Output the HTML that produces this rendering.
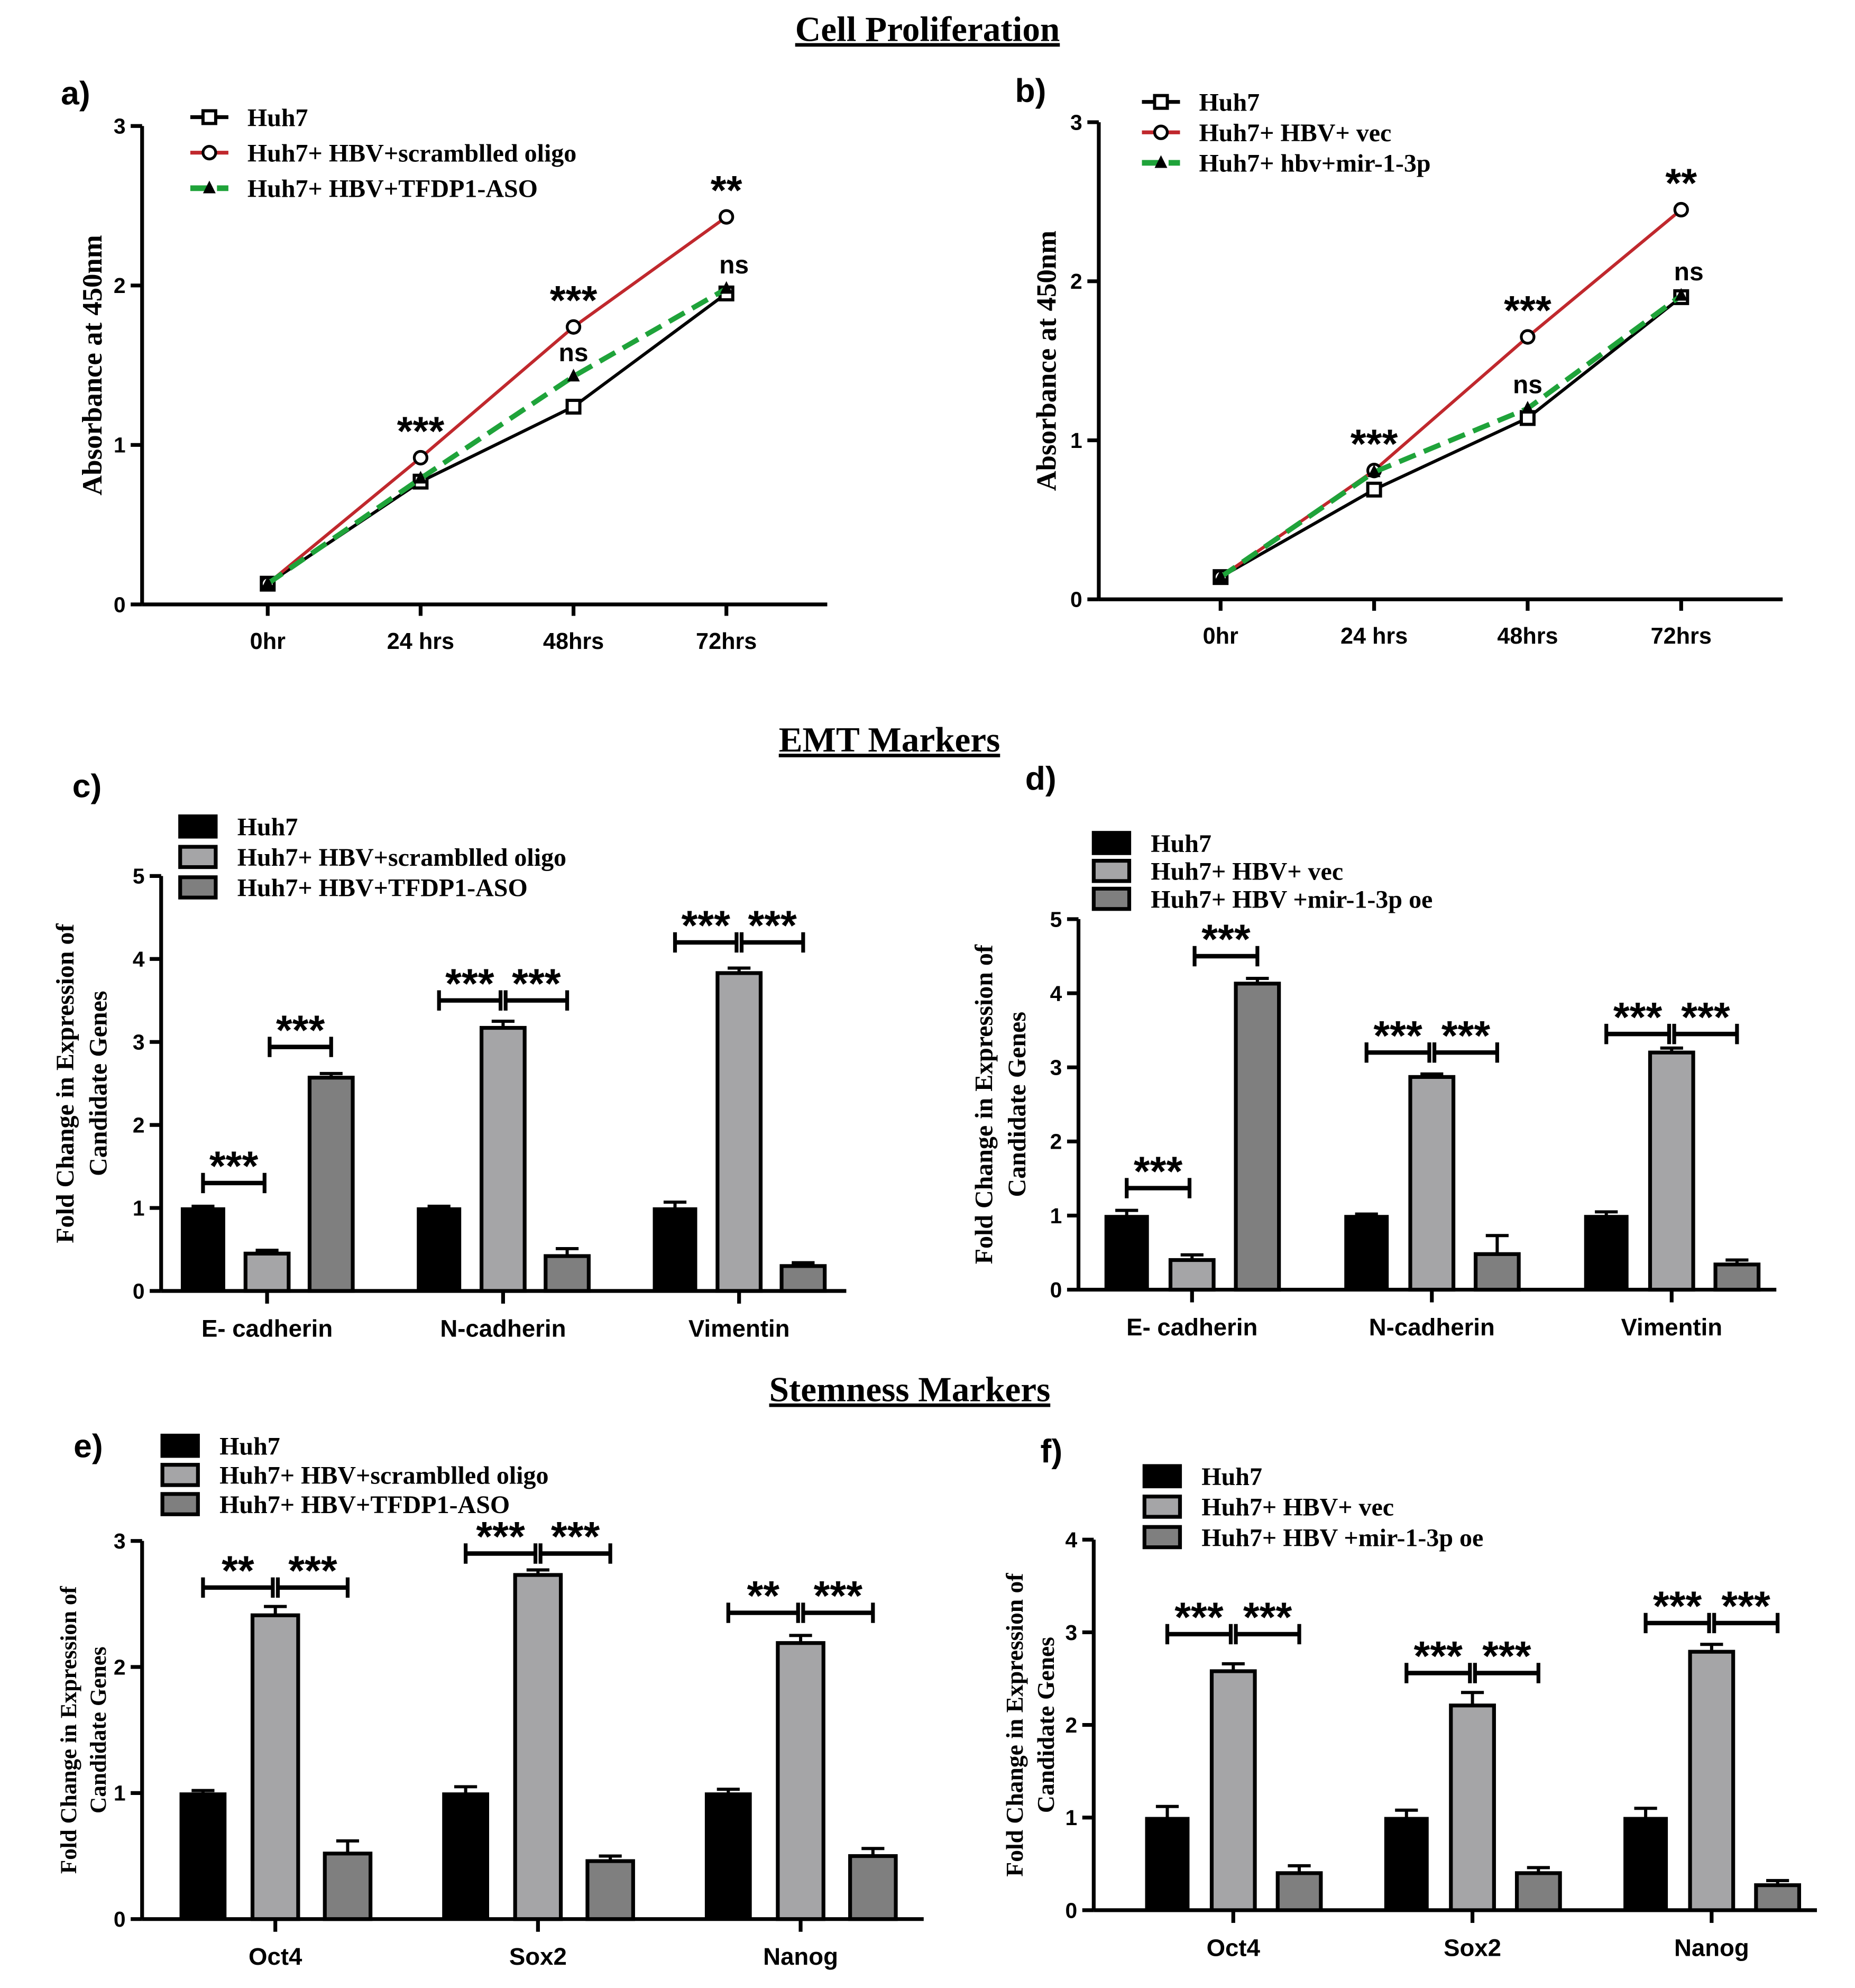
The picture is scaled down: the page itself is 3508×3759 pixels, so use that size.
<!DOCTYPE html>
<html><head><meta charset="utf-8"><style>
html,body{margin:0;padding:0;background:#fff}
svg{display:block}
.serif{font-family:"Liberation Serif",serif;font-weight:bold}
.sans{font-family:"Liberation Sans",sans-serif;font-weight:bold}
</style></head><body>
<svg id="fig" width="3508" height="3759" viewBox="0 0 1462 1566" xmlns="http://www.w3.org/2000/svg">
<g>
<text class="serif" x="731" y="32" font-size="28" text-anchor="middle" text-decoration="underline">Cell Proliferation</text>
<text class="serif" x="701" y="592" font-size="28" text-anchor="middle" text-decoration="underline">EMT Markers</text>
<text class="serif" x="717" y="1104" font-size="28" text-anchor="middle" text-decoration="underline">Stemness Markers</text>
</g>
</svg>
<script>
// ---------- DATA ----------
const timeCats = ["0hr","24 hrs","48hrs","72hrs"];
const lineTicks = [0,1,2,3];
const aHuh7 = [0.13,0.77,1.24,1.95];
const aScr = [0.13,0.92,1.74,2.43];
const aAso = [0.13,0.79,1.43,1.98];
const aSig = [null,"***","***","**"];
const aSig2 = [null,null,"ns","ns"];
const bHuh7 = [0.14,0.69,1.14,1.90];
const bVec = [0.14,0.81,1.65,2.45];
const bMir = [0.14,0.80,1.20,1.91];
const bSig = [null,"***","***","**"];
const bSig2 = [null,null,"ns","ns"];

const emtCats = ["E- cadherin","N-cadherin","Vimentin"];
const emtTicks = [0,1,2,3,4,5];
const cHuh7 = [1.0,1.0,1.0], cScr = [0.45,3.17,3.83], cAso = [2.57,0.42,0.30];
const cHuh7Err = [0.02,0.02,0.07], cScrErr = [0.04,0.08,0.06], cAsoErr = [0.05,0.09,0.04];
const dHuh7 = [1.0,1.0,1.0], dVec = [0.40,2.87,3.20], dMir = [4.13,0.48,0.34];
const dHuh7Err = [0.07,0.02,0.05], dVecErr = [0.07,0.04,0.06], dMirErr = [0.07,0.25,0.06];

const stemCats = ["Oct4","Sox2","Nanog"];
const eTicks = [0,1,2,3];
const eHuh7 = [1.0,1.0,1.0], eScr = [2.41,2.73,2.19], eAso = [0.52,0.46,0.50];
const eHuh7Err = [0.02,0.05,0.03], eScrErr = [0.07,0.04,0.06], eAsoErr = [0.10,0.04,0.06];
const fTicks = [0,1,2,3,4];
const fHuh7 = [1.0,1.0,1.0], fVec = [2.58,2.21,2.79], fMir = [0.40,0.40,0.27];
const fHuh7Err = [0.12,0.08,0.10], fVecErr = [0.08,0.14,0.08], fMirErr = [0.08,0.06,0.05];

const NS="http://www.w3.org/2000/svg";
const svg=document.getElementById('fig');
function mk(tag,attrs,parent,text){const e=document.createElementNS(NS,tag);for(const k in attrs)e.setAttribute(k,attrs[k]);if(text!==undefined)e.textContent=text;(parent||svg).appendChild(e);return e;}

function yAxis(g,x0,y0,y1,ticks,max){
  const ys=v=>y0-(v/max)*(y0-y1);
  mk('line',{x1:x0,y1:y0,x2:x0,y2:ys(ticks[ticks.length-1]),stroke:'#000','stroke-width':3},g);
  ticks.forEach(t=>{mk('line',{x1:x0-9,y1:ys(t),x2:x0,y2:ys(t),stroke:'#000','stroke-width':3},g);
    const tl=mk('text',{x:x0-13,y:ys(t)+6,'font-size':17,'text-anchor':'end',class:'sans'},g,String(t));
    
    });
  return ys;
}
function yTitle(g,x,y,lines,size){
  lines.forEach((l,i)=>{const t=mk('text',{x:0,y:0,'font-size':size,'text-anchor':'middle',class:'serif',transform:`translate(${x+i*size*1.3},${y}) rotate(-90)`},g,l);
    
    });
}
function label(x,y,s){const t=mk('text',{x:x,y:y,'font-size':26,class:'sans'},svg,s);
  
  }

function marker(g,type,x,y,col){
  if(type==='sq')mk('rect',{x:x-5,y:y-5,width:10,height:10,fill:'#fff',stroke:'#000','stroke-width':2.5},g);
  else if(type==='ci')mk('circle',{cx:x,cy:y,r:5,fill:'#fff',stroke:'#000','stroke-width':2.2},g);
  else mk('polygon',{points:`${x},${y-6} ${x-5},${y+4} ${x+5},${y+4}`,fill:'#000'},g);
}

function linePanel(name,o){
  const g=mk('g',{});
  
  
  const ys=yAxis(g,o.x0,o.y0,o.y1,lineTicks,3);
  mk('line',{x1:o.x0,y1:o.y0,x2:o.x2,y2:o.y0,stroke:'#000','stroke-width':3},g);
  const xs=i=>o.xf+i*o.dx;
  timeCats.forEach((c,i)=>{mk('line',{x1:xs(i),y1:o.y0,x2:xs(i),y2:o.y0+9,stroke:'#000','stroke-width':3},g);
    const t=mk('text',{x:xs(i),y:o.y0+35,'font-size':18,'text-anchor':'middle',class:'sans'},g,c);
    
    });
  o.series.forEach(s=>{
    const pts=s.v.map((v,i)=>xs(i)+','+ys(v)).join(' ');
    const pl=mk('polyline',{points:pts,fill:'none',stroke:s.col,'stroke-width':s.w,'stroke-dasharray':s.dash||'none'},g);
    
    
    s.v.forEach((v,i)=>marker(g,s.m,xs(i),ys(v)));
  });
  o.sig.forEach((s,i)=>{if(s){const t=mk('text',{x:xs(i),y:ys(o.top[i])-10,'font-size':32,'text-anchor':'middle',class:'sans'},g,s);
    
    }});
  o.sig2.forEach((s,i)=>{if(s){const t=mk('text',{x:xs(i)+(i===3?6:0),y:ys(o.mid[i])-12,'font-size':20,'text-anchor':'middle',class:'sans'},g,s);
    
    }});
  o.series.forEach((s,i)=>{const ly=o.ly+i*o.lsp;
    const le=mk('g',{},g);
    
    
    mk('line',{x1:o.lx,y1:ly,x2:o.lx+30,y2:ly,stroke:s.col,'stroke-width':s.w+0.5,'stroke-dasharray':s.dash||'none'},le);
    marker(le,s.m,o.lx+15,ly);
    mk('text',{x:o.lx+45,y:ly+7,'font-size':20,class:'serif'},le,s.name);});
  yTitle(g,o.tx,(o.y0+o.y1)/2,["Absorbance at 450nm"],22);
}

linePanel('line-chart-a',{x0:112,y0:476,y1:99,x2:652,xf:211,dx:120.5,lx:150,ly:92,lsp:28,tx:80,
  series:[{v:aHuh7,col:'#000',w:2.5,m:'sq',name:'Huh7'},{v:aScr,col:'#c0282d',w:2.5,m:'ci',name:'Huh7+ HBV+scramblled oligo'},{v:aAso,col:'#1fa33a',w:4,dash:'14 7',m:'tr',name:'Huh7+ HBV+TFDP1-ASO'}],
  sig:aSig,sig2:aSig2,top:aScr,mid:aAso});
linePanel('line-chart-b',{x0:866,y0:472,y1:96,x2:1405,xf:962,dx:121,lx:900,ly:80,lsp:24,tx:832,
  series:[{v:bHuh7,col:'#000',w:2.5,m:'sq',name:'Huh7'},{v:bVec,col:'#c0282d',w:2.5,m:'ci',name:'Huh7+ HBV+ vec'},{v:bMir,col:'#1fa33a',w:4,dash:'14 7',m:'tr',name:'Huh7+ hbv+mir-1-3p'}],
  sig:bSig,sig2:bSig2,top:bVec,mid:bMir});
label(48,82,'a)');label(800,80,'b)');

const fills=['#000','#a5a5a7','#7f7f7f'];
function barPanel(name,o){
  const g=mk('g',{});
  
  
  const max=o.ticks[o.ticks.length-1];
  const ys=yAxis(g,o.x0,o.y0,o.y1,o.ticks,max);
  mk('line',{x1:o.x0,y1:o.y0,x2:o.x2,y2:o.y0,stroke:'#000','stroke-width':3},g);
  const bx=(gi,si)=>o.gx0+gi*o.gdx+si*o.sdx;
  o.cats.forEach((c,gi)=>{const cx=bx(gi,1);
    mk('line',{x1:cx,y1:o.y0,x2:cx,y2:o.y0+10,stroke:'#000','stroke-width':3},g);
    const t=mk('text',{x:cx,y:o.y0+36,'font-size':19,'text-anchor':'middle',class:'sans'},g,c);
    
    });
  o.series.forEach((s,si)=>{s.v.forEach((v,gi)=>{
    const cx=bx(gi,si),w=o.bw,yt=ys(v);
    const r=mk('rect',{x:cx-w/2,y:yt,width:w,height:o.y0-yt,fill:fills[si],stroke:'#000','stroke-width':si?3:1},g);
    
    
    const ye=ys(v+s.e[gi]);
    mk('line',{x1:cx,y1:yt,x2:cx,y2:ye,stroke:'#000','stroke-width':2.5},g);
    mk('line',{x1:cx-9,y1:ye,x2:cx+9,y2:ye,stroke:'#000','stroke-width':2.5},g);
  });});
  o.br.forEach(b=>{const xa=bx(b[0],b[1])+(b[1]===1?2:0),xb=bx(b[0],b[2])-(b[2]===1?2:0),y=ys(b[3]);
    const bg=mk('g',{},g);
    
    
    mk('line',{x1:xa,y1:y,x2:xb,y2:y,stroke:'#000','stroke-width':3.5},bg);
    mk('line',{x1:xa,y1:y-8,x2:xa,y2:y+8,stroke:'#000','stroke-width':3},bg);
    mk('line',{x1:xb,y1:y-8,x2:xb,y2:y+8,stroke:'#000','stroke-width':3},bg);
    mk('text',{x:(xa+xb)/2,y:y-2,'font-size':33,'text-anchor':'middle',class:'sans'},bg,b[4]);});
  o.series.forEach((s,i)=>{const ly=o.ly+i*o.lsp;
    const le=mk('g',{},g);
    
    
    mk('rect',{x:o.lx,y:ly-8,width:28,height:16,fill:fills[i],stroke:'#000','stroke-width':3},le);
    mk('text',{x:o.lx+45,y:ly+7,'font-size':20,class:'serif'},le,s.name);});
  yTitle(g,o.tx,(o.y0+o.y1)/2,["Fold Change in  Expression of","Candidate Genes"],o.tsz);
}
barPanel('bar-chart-c',{x0:127,y0:1017,y1:690,x2:667,ticks:emtTicks,cats:emtCats,gx0:160,gdx:186,sdx:50.5,bw:34,lx:142,ly:651,lsp:24,tx:58,tsz:20,
  series:[{v:cHuh7,e:cHuh7Err,name:'Huh7'},{v:cScr,e:cScrErr,name:'Huh7+ HBV+scramblled oligo'},{v:cAso,e:cAsoErr,name:'Huh7+ HBV+TFDP1-ASO'}],
  br:[[0,0,1,1.3,'***'],[0,1,2,2.94,'***'],[1,0,1,3.5,'***'],[1,1,2,3.5,'***'],[2,0,1,4.2,'***'],[2,1,2,4.2,'***']]});
barPanel('bar-chart-d',{x0:850,y0:1016,y1:724,x2:1400,ticks:emtTicks,cats:emtCats,gx0:888,gdx:189,sdx:51.5,bw:34,lx:862,ly:664,lsp:22,tx:782,tsz:20,
  series:[{v:dHuh7,e:dHuh7Err,name:'Huh7'},{v:dVec,e:dVecErr,name:'Huh7+ HBV+ vec'},{v:dMir,e:dMirErr,name:'Huh7+ HBV +mir-1-3p oe'}],
  br:[[0,0,1,1.37,'***'],[0,1,2,4.5,'***'],[1,0,1,3.2,'***'],[1,1,2,3.2,'***'],[2,0,1,3.45,'***'],[2,1,2,3.45,'***']]});
barPanel('bar-chart-e',{x0:112,y0:1512,y1:1214,x2:728,ticks:eTicks,cats:stemCats,gx0:160,gdx:207,sdx:57,bw:36,lx:128,ly:1139,lsp:23,tx:60,tsz:18,
  series:[{v:eHuh7,e:eHuh7Err,name:'Huh7'},{v:eScr,e:eScrErr,name:'Huh7+ HBV+scramblled oligo'},{v:eAso,e:eAsoErr,name:'Huh7+ HBV+TFDP1-ASO'}],
  br:[[0,0,1,2.63,'**'],[0,1,2,2.63,'***'],[1,0,1,2.9,'***'],[1,1,2,2.9,'***'],[2,0,1,2.43,'**'],[2,1,2,2.43,'***']]});
barPanel('bar-chart-f',{x0:862,y0:1505,y1:1213,x2:1432,ticks:fTicks,cats:stemCats,gx0:920,gdx:188.5,sdx:52,bw:34,lx:902,ly:1163,lsp:24,tx:806,tsz:19,
  series:[{v:fHuh7,e:fHuh7Err,name:'Huh7'},{v:fVec,e:fVecErr,name:'Huh7+ HBV+ vec'},{v:fMir,e:fMirErr,name:'Huh7+ HBV +mir-1-3p oe'}],
  br:[[0,0,1,2.98,'***'],[0,1,2,2.98,'***'],[1,0,1,2.56,'***'],[1,1,2,2.56,'***'],[2,0,1,3.1,'***'],[2,1,2,3.1,'***']]});
label(57,628,'c)');label(808,622,'d)');label(58,1148,'e)');label(820,1152,'f)');
</script>
</body></html>
